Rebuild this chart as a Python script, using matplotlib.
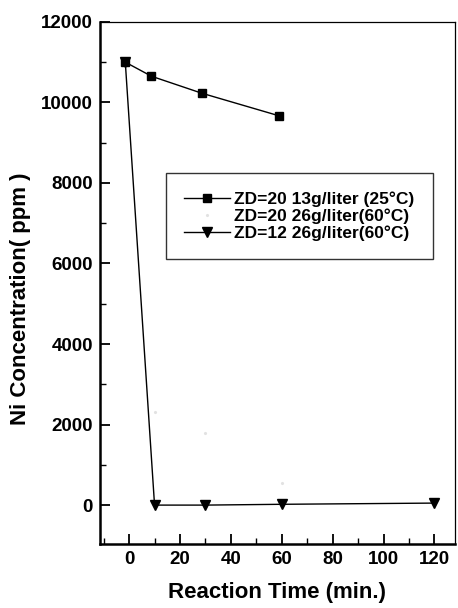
import matplotlib
matplotlib.use("Agg")
import matplotlib.pyplot as plt
from matplotlib.ticker import MultipleLocator

plt.rcParams['font.family'] = ['Liberation Sans', 'DejaVu Sans']

# Data
x_s1 = [-1.5, 8.8, 28.5, 58.8]
y_s1 = [11000, 10650, 10230, 9670]
label_s1 = "ZD=20 13g/liter (25°C)"

x_s2 = [10, 30, 60]
y_s2 = [2310, 1790, 550]
label_s2 = "ZD=20 26g/liter(60°C)"

x_s3 = [-1.5, 10, 30, 60, 120]
y_s3 = [11000, 0, 0, 20, 50]
label_s3 = "ZD=12 26g/liter(60°C)"

xticks = [0, 20, 40, 60, 80, 100, 120]
yticks = [0, 2000, 4000, 6000, 8000, 10000, 12000]

fig = plt.figure(figsize=(4.58, 6.08), dpi=100)
ax = fig.add_axes([0.218, 0.105, 0.775, 0.859])

l1, = ax.plot(x_s1, y_s1, color='black', lw=1.0, marker='s', ms=6, zorder=4, label=label_s1)
l2, = ax.plot(x_s2, y_s2, color='#e2e2e2', lw=0, marker='.', ms=2.5, zorder=2, label=label_s2)
l3, = ax.plot(x_s3, y_s3, color='black', lw=1.0, marker='v', ms=7.5, zorder=3, label=label_s3)

ax.set_xlim(-11.5, 128)
ax.set_ylim(-970, 12000)
ax.set_xticks(xticks)
ax.set_yticks(yticks)
ax.xaxis.set_minor_locator(MultipleLocator(10))
ax.yaxis.set_minor_locator(MultipleLocator(1000))
ax.tick_params(which='major', direction='in', length=7, width=1.3, labelsize=13.5, pad=5)
ax.tick_params(which='minor', direction='in', length=4, width=1.0)
ax.tick_params(top=False, right=False, which='both')
for lab in ax.get_xticklabels() + ax.get_yticklabels():
    lab.set_fontweight('bold')

ax.spines['left'].set_linewidth(1.8)
ax.spines['bottom'].set_linewidth(1.8)
ax.spines['top'].set_linewidth(0.9)
ax.spines['right'].set_linewidth(0.9)

ax.set_xlabel("Reaction Time (min.)", fontsize=16, fontweight='bold', labelpad=10)
ax.set_ylabel("Ni Concentration( ppm )", fontsize=16, fontweight='bold')
ax.yaxis.set_label_coords(-0.195, 0.469)

leg = ax.legend(handles=[l1, l2, l3], loc='upper left', bbox_to_anchor=(0.186, 0.711),
                prop={'size': 12.5, 'weight': 'bold'}, frameon=True, fancybox=False,
                edgecolor='black', handlelength=2.65, handletextpad=0.25, borderpad=1.05,
                labelspacing=0.1, borderaxespad=0)
leg.get_frame().set_linewidth(1.0)

fig.savefig("out.png", dpi=100)
